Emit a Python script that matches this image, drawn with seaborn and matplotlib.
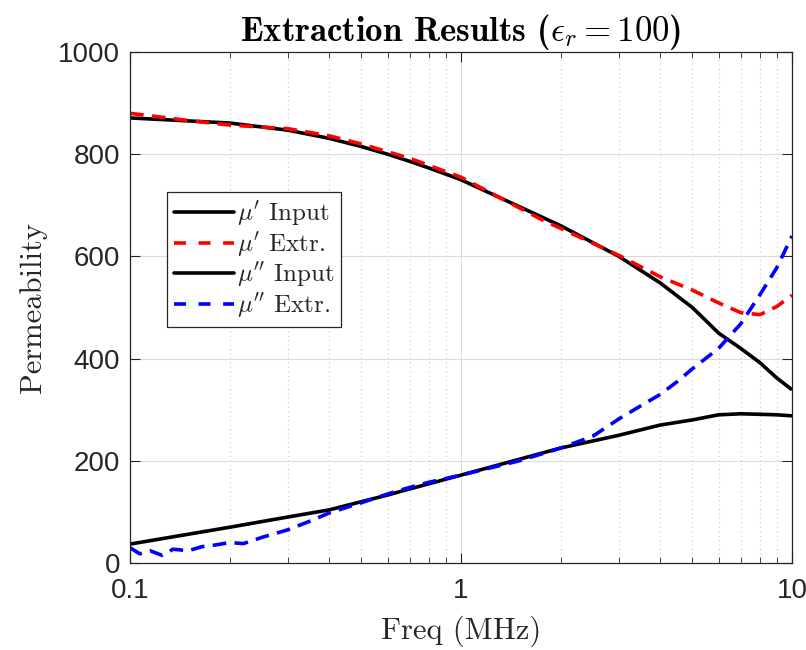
import numpy as np
import pandas as pd
import matplotlib
matplotlib.use("Agg")
import matplotlib.pyplot as plt
import seaborn as sns
from matplotlib.ticker import LogLocator, FixedLocator, NullFormatter, FixedFormatter
from matplotlib.lines import Line2D

# ---------------- data ----------------
freq_input = [0.1, 0.2, 0.3, 0.4, 0.5, 0.6, 0.7, 0.8, 0.9, 1, 2, 3, 4, 5, 6, 7, 8, 9, 10]
mu1_input = [871, 861, 847, 831, 815, 800, 786, 773, 761, 750, 660, 600, 548, 500, 450, 420, 392, 362, 339]
mu2_input = [37, 70, 90, 104, 120, 133, 145, 155, 164, 172, 225, 250, 270, 280, 290, 292, 291, 290, 288]

freq_mu1_extr = [0.1, 0.15, 0.2, 0.3, 0.4, 0.5, 0.7, 1, 1.5, 1.8, 2, 3, 4, 5, 6, 7, 8, 9, 10]
mu1_extr = [880, 866, 857, 850, 836, 820, 792, 755, 695, 668, 655, 602, 560, 534, 509, 490, 486, 502, 524]

freq_mu2_extr = [0.1, 0.107, 0.115, 0.125, 0.135, 0.15, 0.165, 0.18, 0.2, 0.22, 0.25, 0.3, 0.35,
                 0.4, 0.5, 0.6, 0.7, 0.8, 1, 1.5, 2, 2.5, 3, 3.5, 4, 4.5, 5, 6, 7, 8, 9, 10]
mu2_extr = [30, 18, 24, 15, 27, 24, 32, 35, 40, 38, 50, 65, 82,
            98, 118, 135, 148, 158, 172, 200, 225, 248, 282, 308, 330, 355, 380, 420, 468, 525, 578, 640]

legend_labels = [r"$\mu'$ Input", r"$\mu'$ Extr.", r"$\mu''$ Input", r"$\mu''$ Extr."]
x_ticks = [0.1, 1, 10]
x_tick_labels = ["0.1", "1", "10"]
y_ticks = [0, 200, 400, 600, 800, 1000]

# ---------------- style ----------------
sns.set_style("white")
plt.rcParams["mathtext.fontset"] = "cm"
plt.rcParams["font.family"] = ["Liberation Sans", "DejaVu Sans"]
plt.rcParams["axes.unicode_minus"] = False

fig = plt.figure(figsize=(8.06, 6.5), dpi=100)
ax = fig.add_axes([130 / 806, 1 - 563 / 650, 662 / 806, 511 / 650])

LW = 2.6
series = [
    (freq_input, mu1_input, "black", "-"),
    (freq_mu1_extr, mu1_extr, "#ff0000", "--"),
    (freq_input, mu2_input, "black", "-"),
    (freq_mu2_extr, mu2_extr, "#0000ff", "--"),
]
for f, v, c, ls in series:
    df = pd.DataFrame({"f": f, "v": v})
    sns.lineplot(data=df, x="f", y="v", linestyle=ls, color=c, linewidth=LW,
                 ax=ax, legend=False, sort=False)
for ln, (_, _, c, ls) in zip(ax.get_lines(), series):
    if ls == "--":
        ln.set_dashes([3.8, 2.3])
    ln.set_solid_capstyle("butt")

ax.set_xscale("log")
ax.set_xlim(0.1, 10)
ax.set_ylim(0, 1000)
ax.xaxis.set_major_locator(FixedLocator(x_ticks))
ax.xaxis.set_major_formatter(FixedFormatter(x_tick_labels))
ax.xaxis.set_minor_locator(LogLocator(base=10, subs=np.arange(2, 10), numticks=20))
ax.xaxis.set_minor_formatter(NullFormatter())
ax.set_yticks(y_ticks)

# grid
ax.grid(True, which="major", axis="both", color="#dcdcdc", linewidth=0.8, linestyle="-")
ax.grid(True, which="minor", axis="x", color="#c8c8c8", linewidth=0.8, linestyle=(0, (1, 3)))
ax.set_axisbelow(True)

# spines / ticks
for s in ax.spines.values():
    s.set_color("#262626")
    s.set_linewidth(0.9)
    s.set_visible(True)
ax.tick_params(which="both", direction="in", top=True, right=True, bottom=True, left=True,
               colors="#262626", labelcolor="#262626", labelsize=20)
ax.tick_params(which="major", length=7, width=0.8, pad=7)
ax.tick_params(which="minor", length=4, width=0.6)
ax.tick_params(axis="x", which="major", pad=11)

# labels
ax.set_xlabel("Freq (MHz)", family="cmr10", fontsize=22, color="#262626", labelpad=8)
ax.set_ylabel("Permeability", family="cmr10", fontsize=22, color="#262626", labelpad=8)
ax.set_title(r"Extraction Results ($\epsilon_r = 100$)", family="cmb10", fontsize=25,
             color="black", pad=6)

# legend
handles = []
for _, _, c, ls in series:
    h = Line2D([], [], color=c, linewidth=LW, linestyle=ls)
    if ls == "--":
        h.set_dashes([3.3, 3.5])
    handles.append(h)
leg = ax.legend(handles, legend_labels, loc="upper left", bbox_to_anchor=(0.056, 0.726),
                borderaxespad=0, fancybox=False, framealpha=1, edgecolor="#262626",
                prop={"family": "cmr10", "size": 18}, handlelength=2.4, handletextpad=0.1,
                labelspacing=0.08, borderpad=0.28)
leg.get_frame().set_linewidth(0.9)

fig.savefig("out.png", dpi=100)
